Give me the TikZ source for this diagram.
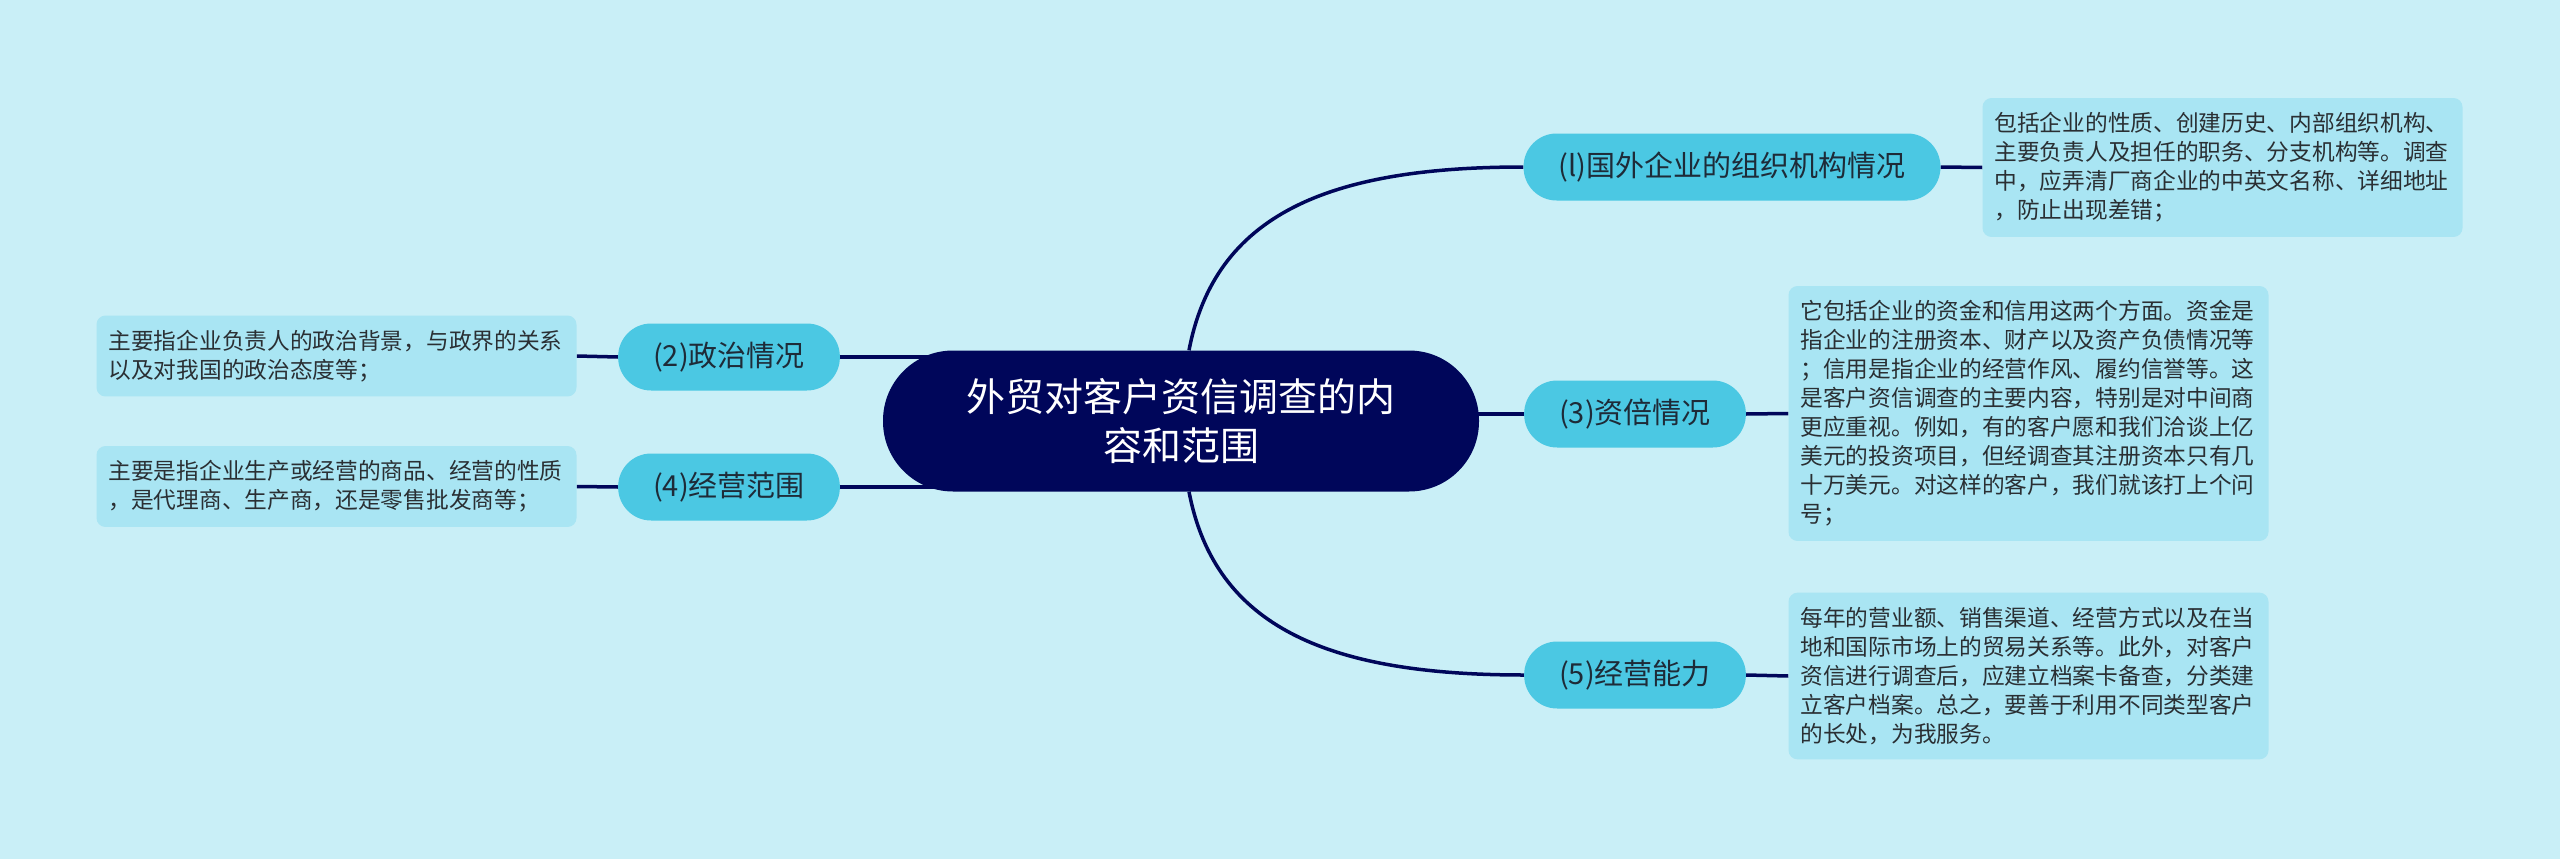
\documentclass[tikz,border=0pt]{standalone}
\usepackage{fontspec}
\newfontfamily\cjk{Noto Sans CJK SC}
\definecolor{cbg}{HTML}{C9EFF7}
\definecolor{cmid}{HTML}{4BC8E3}
\definecolor{cbox}{HTML}{A9E5F3}
\definecolor{cnavy}{HTML}{00065A}
\definecolor{ctext}{HTML}{1E2B38}
\definecolor{cdtext}{HTML}{2A2F33}
\pgfdeclarelayer{back}
\pgfdeclarelayer{bg}
\pgfsetlayers{back,bg,main}
\begin{document}
\begin{tikzpicture}[x=1pt,y=-1pt,
  central/.style={fill=cnavy, rounded corners=70pt, minimum width=596pt, minimum height=141pt,
    text=white, align=center, font=\cjk\fontsize{39}{49}\selectfont, inner sep=0pt},
  topic/.style={fill=cmid, rounded corners=33pt, minimum height=67pt, inner xsep=35pt,
    inner ysep=0pt, text=ctext, font=\cjk\fontsize{29}{35}\selectfont},
  detail/.style={fill=cbox, rounded corners=9pt, text width=456pt, inner xsep=12pt,
    inner ysep=14.5pt, align=left, text=cdtext, font=\cjk\fontsize{22.7}{29}\selectfont},
  link/.style={draw=cnavy, line width=3.5pt}]
\begin{pgfonlayer}{back}
\fill[cbg] (0,0) rectangle (2560,859);
\end{pgfonlayer}
\useasboundingbox (0,0) rectangle (2560,859);

\node[central] (c) at (1181,421) {外贸对客户资信调查的内\\容和范围};

\node[topic] (m1) at (1732,167) {(l)国外企业的组织机构情况};
\node[topic] (m3) at (1635,414) {(3)资倍情况};
\node[topic] (m5) at (1635,675) {(5)经营能力};
\node[topic] (m2) at (729,357) {(2)政治情况};
\node[topic] (m4) at (729,487) {(4)经营范围};

\node[detail] (d1) at (2222.5,167.5) {包括企业的性质、创建历史、内部组织机构、\\主要负责人及担任的职务、分支机构等。调查\\中，应弄清厂商企业的中英文名称、详细地址\\，防止出现差错；};
\node[detail] (d3) at (2028.5,413.5) {它包括企业的资金和信用这两个方面。资金是\\指企业的注册资本、财产以及资产负债情况等\\；信用是指企业的经营作风、履约信誉等。这\\是客户资信调查的主要内容，特别是对中间商\\更应重视。例如，有的客户愿和我们洽谈上亿\\美元的投资项目，但经调查其注册资本只有几\\十万美元。对这样的客户，我们就该打上个问\\号；};
\node[detail] (d5) at (2028.5,676) {每年的营业额、销售渠道、经营方式以及在当\\地和国际市场上的贸易关系等。此外，对客户\\资信进行调查后，应建立档案卡备查，分类建\\立客户档案。总之，要善于利用不同类型客户\\的长处，为我服务。};
\node[detail] (d2) at (336.5,356) {主要指企业负责人的政治背景，与政界的关系\\以及对我国的政治态度等；};
\node[detail] (d4) at (336.5,486.5) {主要是指企业生产或经营的商品、经营的性质\\，是代理商、生产商，还是零售批发商等；};

\begin{pgfonlayer}{bg}
\draw[link] ([xshift=8pt]c.north) .. controls +(26,-136) and +(-195,0) .. (m1.west);
\draw[link] ([xshift=8pt]c.south) .. controls +(26,136) and +(-195,0) .. (m5.west);
\draw[link] (m3.west) -- (m3.west -| c.center);
\draw[link] (m2.east) -- (m2.east -| c.center);
\draw[link] (m4.east) -- (m4.east -| c.center);
\draw[link] (m1.east) -- (d1.west);
\draw[link] (m3.east) -- (d3.west);
\draw[link] (m5.east) -- (d5.west);
\draw[link] (m2.west) -- (d2.east);
\draw[link] (m4.west) -- (d4.east);
\end{pgfonlayer}
\end{tikzpicture}
\end{document}
